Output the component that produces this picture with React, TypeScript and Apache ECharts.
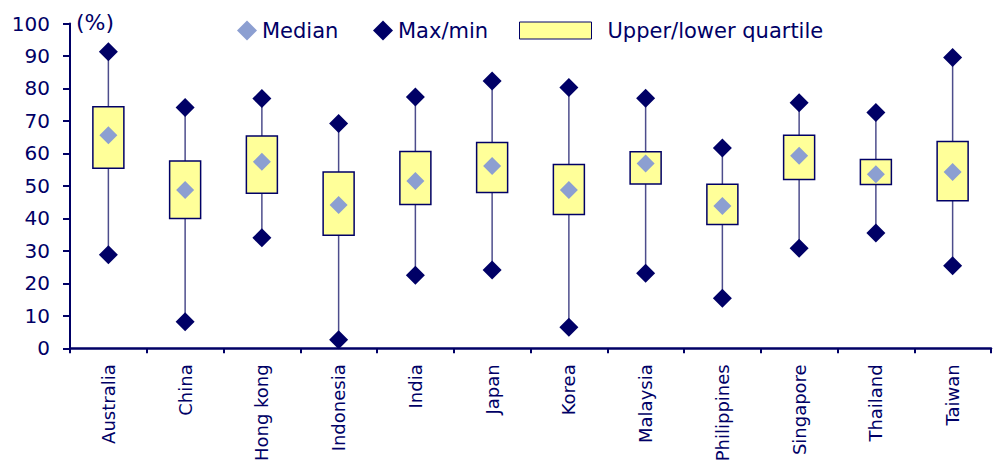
import React, { useEffect, useRef } from "react";
import * as echarts from "echarts";

// Distribution of the ratio by economy (%)
const categories = [
  "Australia", "China", "Hong kong", "Indonesia", "India", "Japan",
  "Korea", "Malaysia", "Philippines", "Singapore", "Thailand", "Taiwan",
];
const maxValues = [91.3, 74.1, 76.9, 69.2, 77.4, 82.3, 80.3, 77.0, 61.7, 75.6, 72.6, 89.5];
const upperQuartile = [74.4, 57.7, 65.4, 54.3, 60.6, 63.4, 56.6, 60.5, 50.5, 65.6, 58.1, 63.7];
const medianValues = [65.6, 48.7, 57.4, 44.1, 51.5, 56.1, 48.7, 56.9, 43.8, 59.3, 53.6, 54.3];
const lowerQuartile = [55.4, 40.0, 47.7, 34.8, 44.3, 48.0, 41.2, 50.6, 38.1, 52.0, 50.4, 45.4];
const minValues = [28.8, 8.2, 34.0, 2.6, 22.5, 24.1, 6.5, 23.1, 15.4, 30.8, 35.5, 25.4];
const yTicks = [0, 10, 20, 30, 40, 50, 60, 70, 80, 90, 100];

const NAVY = "#000066";
const FONT = "DejaVu Sans";

export default function App() {
  const ref = useRef<HTMLDivElement>(null);

  useEffect(() => {
    document.body.style.margin = "0";
    if (!ref.current) return;
    const chart = echarts.init(ref.current, null, { renderer: "svg" });

    const boxData = categories.map((_, i) => [
      i, minValues[i], lowerQuartile[i], upperQuartile[i], maxValues[i],
    ]);
    const extremeData: number[][] = [];
    categories.forEach((_, i) => {
      extremeData.push([i, maxValues[i]]);
      extremeData.push([i, minValues[i]]);
    });
    const medianData = categories.map((_, i) => [i, medianValues[i]]);

    const legendText = { color: NAVY, fontSize: 21, fontFamily: FONT };

    chart.setOption({
      animation: false,
      textStyle: { fontFamily: FONT },
      grid: {
        left: 70,
        right: 9,
        top: 23.5,
        bottom: 113.7,
        containLabel: false,
        outerBoundsMode: "none",
      },
      legend: [
        {
          data: ["Median"],
          left: 237,
          top: 20,
          padding: 0,
          itemWidth: 20,
          itemHeight: 20,
          textStyle: legendText,
        },
        {
          data: ["Max/min"],
          left: 373,
          top: 20,
          padding: 0,
          itemWidth: 20,
          itemHeight: 20,
          textStyle: legendText,
        },
        {
          data: [
            {
              name: "Upper/lower quartile",
              icon: "rect",
              itemStyle: { color: "#FFFF99", borderColor: NAVY, borderWidth: 1 },
            },
          ],
          left: 519,
          top: 20,
          padding: 0,
          itemWidth: 72,
          itemHeight: 17,
          textStyle: { ...legendText, padding: [0, 0, 0, 11] },
        },
      ],
      graphic: [
        {
          type: "text",
          left: 76,
          top: 11,
          style: { text: "(%)", fill: NAVY, fontSize: 22, fontFamily: FONT },
        },
      ],
      xAxis: {
        type: "category",
        data: categories,
        boundaryGap: true,
        axisLine: { lineStyle: { color: NAVY, width: 2.5 } },
        axisTick: { show: true, length: 5, interval: 0, lineStyle: { color: NAVY, width: 2 } },
        axisLabel: {
          rotate: 90,
          interval: 0,
          margin: 16,
          color: NAVY,
          fontSize: 18,
          fontFamily: FONT,
        },
        splitLine: { show: false },
      },
      yAxis: {
        type: "value",
        min: yTicks[0],
        max: yTicks[yTicks.length - 1],
        interval: yTicks[1] - yTicks[0],
        axisLine: { show: true, lineStyle: { color: NAVY, width: 2 } },
        axisTick: { show: true, length: 7, lineStyle: { color: NAVY, width: 2 } },
        axisLabel: { color: NAVY, fontSize: 20, fontFamily: FONT, margin: 20 },
        splitLine: { show: false },
      },
      series: [
        {
          name: "Upper/lower quartile",
          type: "custom",
          z: 2,
          encode: { x: 0, y: [1, 2, 3, 4] },
          data: boxData,
          itemStyle: { color: "#FFFF99", borderColor: NAVY, borderWidth: 1 },
          renderItem: (params: any, api: any) => {
            const idx = api.value(0);
            const pMin = api.coord([idx, api.value(1)]);
            const pLow = api.coord([idx, api.value(2)]);
            const pHigh = api.coord([idx, api.value(3)]);
            const pMax = api.coord([idx, api.value(4)]);
            const w = 31;
            return {
              type: "group",
              children: [
                {
                  type: "line",
                  shape: { x1: pMin[0], y1: pMin[1], x2: pMax[0], y2: pMax[1] },
                  style: { stroke: "#4d4d8c", lineWidth: 1.5 },
                },
                {
                  type: "rect",
                  shape: { x: pHigh[0] - w / 2, y: pHigh[1], width: w, height: pLow[1] - pHigh[1] },
                  style: { fill: "#FFFF99", stroke: NAVY, lineWidth: 1.5 },
                },
              ],
            };
          },
        },
        {
          name: "Max/min",
          type: "scatter",
          z: 4,
          symbol: "diamond",
          symbolSize: 19,
          itemStyle: { color: NAVY, opacity: 1 },
          data: extremeData,
        },
        {
          name: "Median",
          type: "scatter",
          z: 3,
          symbol: "diamond",
          symbolSize: 18,
          itemStyle: { color: "#8C9FD1", opacity: 1 },
          data: medianData,
        },
      ],
    });

    return () => chart.dispose();
  }, []);

  return <div ref={ref} style={{ width: 1000, height: 462 }} />;
}
